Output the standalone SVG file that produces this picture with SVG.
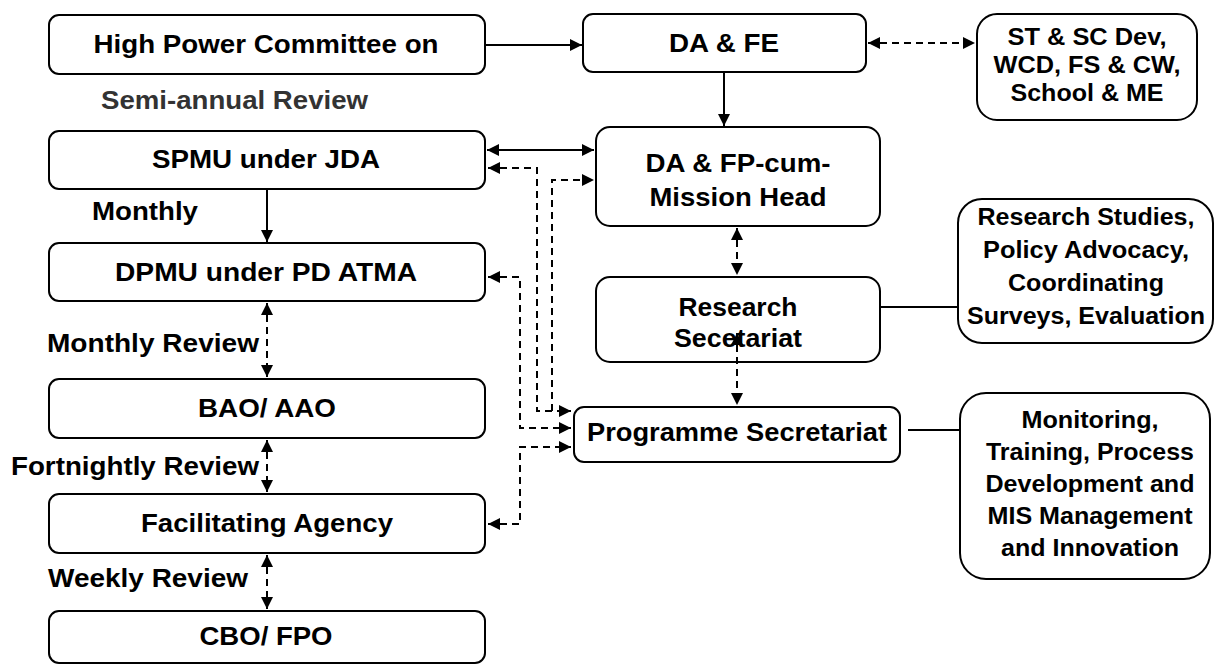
<svg xmlns="http://www.w3.org/2000/svg" width="1217" height="664" viewBox="0 0 1217 664">
<style>
.box{fill:#fff;stroke:#000;stroke-width:2}
.t{font-family:"Liberation Sans",Arial,sans-serif;font-weight:bold;font-size:25px;fill:#000;text-anchor:middle}
.s{font-size:23px}
.l{text-anchor:start}
.c{fill:none;stroke:#000;stroke-width:2}
.d{stroke-dasharray:7,5}
</style>
<defs>
<marker id="ah" markerUnits="userSpaceOnUse" markerWidth="14" markerHeight="14" refX="12" refY="6" orient="auto-start-reverse" viewBox="0 0 14 12">
<path d="M0,0 L12,6 L0,12 z" fill="#000"/>
</marker>
</defs>
<rect width="1217" height="664" fill="#fff"/>

<g id="hpc">
<rect class="box" x="49" y="15" width="436" height="59" rx="10"/>
<text class="t" x="266" y="53" textLength="345" lengthAdjust="spacingAndGlyphs">High Power Committee on</text>
</g>
<g id="semi-annual-label">
<text class="t l" x="101" y="109" style="fill:#333" textLength="267" lengthAdjust="spacingAndGlyphs">Semi-annual Review</text>
</g>
<g id="spmu">
<rect class="box" x="49" y="131" width="436" height="58" rx="10"/>
<text class="t" x="266" y="168" textLength="228" lengthAdjust="spacingAndGlyphs">SPMU under JDA</text>
</g>
<g id="monthly-label">
<text class="t l" x="92" y="220" textLength="106" lengthAdjust="spacingAndGlyphs">Monthly</text>
</g>
<g id="dpmu">
<rect class="box" x="49" y="243" width="436" height="58" rx="10"/>
<text class="t" x="266" y="281" textLength="302" lengthAdjust="spacingAndGlyphs">DPMU under PD ATMA</text>
</g>
<g id="monthly-review-label">
<text class="t l" x="47" y="352" textLength="212" lengthAdjust="spacingAndGlyphs">Monthly Review</text>
</g>
<g id="bao">
<rect class="box" x="49" y="379" width="436" height="59" rx="10"/>
<text class="t" x="267" y="417" textLength="138" lengthAdjust="spacingAndGlyphs">BAO/ AAO</text>
</g>
<g id="fortnightly-label">
<text class="t l" x="11" y="475" textLength="248" lengthAdjust="spacingAndGlyphs">Fortnightly Review</text>
</g>
<g id="fa">
<rect class="box" x="49" y="494" width="436" height="59" rx="10"/>
<text class="t" x="267" y="532" textLength="252" lengthAdjust="spacingAndGlyphs">Facilitating Agency</text>
</g>
<g id="weekly-label">
<text class="t l" x="48" y="587" textLength="200" lengthAdjust="spacingAndGlyphs">Weekly Review</text>
</g>
<g id="cbo">
<rect class="box" x="49" y="611" width="436" height="52" rx="10"/>
<text class="t" x="266" y="645" textLength="133" lengthAdjust="spacingAndGlyphs">CBO/ FPO</text>
</g>

<g id="dafe">
<rect class="box" x="583" y="14" width="283" height="58" rx="10"/>
<text class="t" x="724" y="52" textLength="110" lengthAdjust="spacingAndGlyphs">DA &amp; FE</text>
</g>
<g id="dafp">
<rect class="box" x="596" y="127" width="284" height="99" rx="14"/>
<text class="t" x="738" y="172" textLength="185" lengthAdjust="spacingAndGlyphs">DA &amp; FP-cum-</text>
<text class="t" x="738" y="206" textLength="177" lengthAdjust="spacingAndGlyphs">Mission Head</text>
</g>
<g id="research-sec">
<rect class="box" x="596" y="277" width="284" height="85" rx="14"/>
<text class="t" x="738" y="316" textLength="119" lengthAdjust="spacingAndGlyphs">Research</text>
<text class="t" x="738" y="347" textLength="128" lengthAdjust="spacingAndGlyphs">Secetariat</text>
</g>
<g id="programme-sec">
<rect class="box" x="574" y="407" width="326" height="55" rx="10"/>
<text class="t" x="737" y="441" textLength="300" lengthAdjust="spacingAndGlyphs">Programme Secretariat</text>
</g>

<g id="st-sc">
<rect class="box" x="977" y="14" width="220" height="106" rx="20"/>
<text class="t s" x="1087" y="45" textLength="159" lengthAdjust="spacingAndGlyphs">ST &amp; SC Dev,</text>
<text class="t s" x="1087" y="73" textLength="187" lengthAdjust="spacingAndGlyphs">WCD, FS &amp; CW,</text>
<text class="t s" x="1087" y="101" textLength="153" lengthAdjust="spacingAndGlyphs">School &amp; ME</text>
</g>
<g id="research-studies">
<rect class="box" x="958" y="199" width="255" height="144" rx="24"/>
<text class="t s" x="1086" y="225" textLength="217" lengthAdjust="spacingAndGlyphs">Research Studies,</text>
<text class="t s" x="1086" y="258" textLength="206" lengthAdjust="spacingAndGlyphs">Policy Advocacy,</text>
<text class="t s" x="1086" y="291" textLength="156" lengthAdjust="spacingAndGlyphs">Coordinating</text>
<text class="t s" x="1086" y="324" textLength="238" lengthAdjust="spacingAndGlyphs">Surveys, Evaluation</text>
</g>
<g id="monitoring">
<rect class="box" x="960" y="393" width="250" height="186" rx="26"/>
<text class="t s" x="1090" y="428" textLength="137" lengthAdjust="spacingAndGlyphs">Monitoring,</text>
<text class="t s" x="1090" y="460" textLength="208" lengthAdjust="spacingAndGlyphs">Training, Process</text>
<text class="t s" x="1090" y="492" textLength="209" lengthAdjust="spacingAndGlyphs">Development and</text>
<text class="t s" x="1090" y="524" textLength="205" lengthAdjust="spacingAndGlyphs">MIS Management</text>
<text class="t s" x="1090" y="556" textLength="178" lengthAdjust="spacingAndGlyphs">and Innovation</text>
</g>

<g id="connectors">
<path class="c" d="M486,45 H582" marker-end="url(#ah)"/>
<path class="c d" d="M868,43 H975" marker-start="url(#ah)" marker-end="url(#ah)"/>
<path class="c" d="M724,73 V126" marker-end="url(#ah)"/>
<path class="c" d="M487,150 H594" marker-start="url(#ah)" marker-end="url(#ah)"/>
<path class="c d" d="M488,168 H537 V411 H571" marker-start="url(#ah)" marker-end="url(#ah)"/>
<path class="c d" d="M552,411 V180 H594" marker-end="url(#ah)"/>
<path class="c d" d="M488,277 H520 V428 H571" marker-start="url(#ah)" marker-end="url(#ah)"/>
<path class="c d" d="M488,524 H520 V447 H571" marker-start="url(#ah)" marker-end="url(#ah)"/>
<path class="c" d="M267,190 V242" marker-end="url(#ah)"/>
<path class="c d" d="M267,303 V377" marker-start="url(#ah)" marker-end="url(#ah)"/>
<path class="c d" d="M267,440 V492" marker-start="url(#ah)" marker-end="url(#ah)"/>
<path class="c d" d="M267,555 V609" marker-start="url(#ah)" marker-end="url(#ah)"/>
<path class="c d" d="M737,228 V275" marker-start="url(#ah)" marker-end="url(#ah)"/>
<path class="c d" d="M737,333 V405" marker-start="url(#ah)" marker-end="url(#ah)"/>
<path class="c" d="M881,307 H957"/>
<path class="c" d="M908,430 H959"/>
</g>
</svg>
